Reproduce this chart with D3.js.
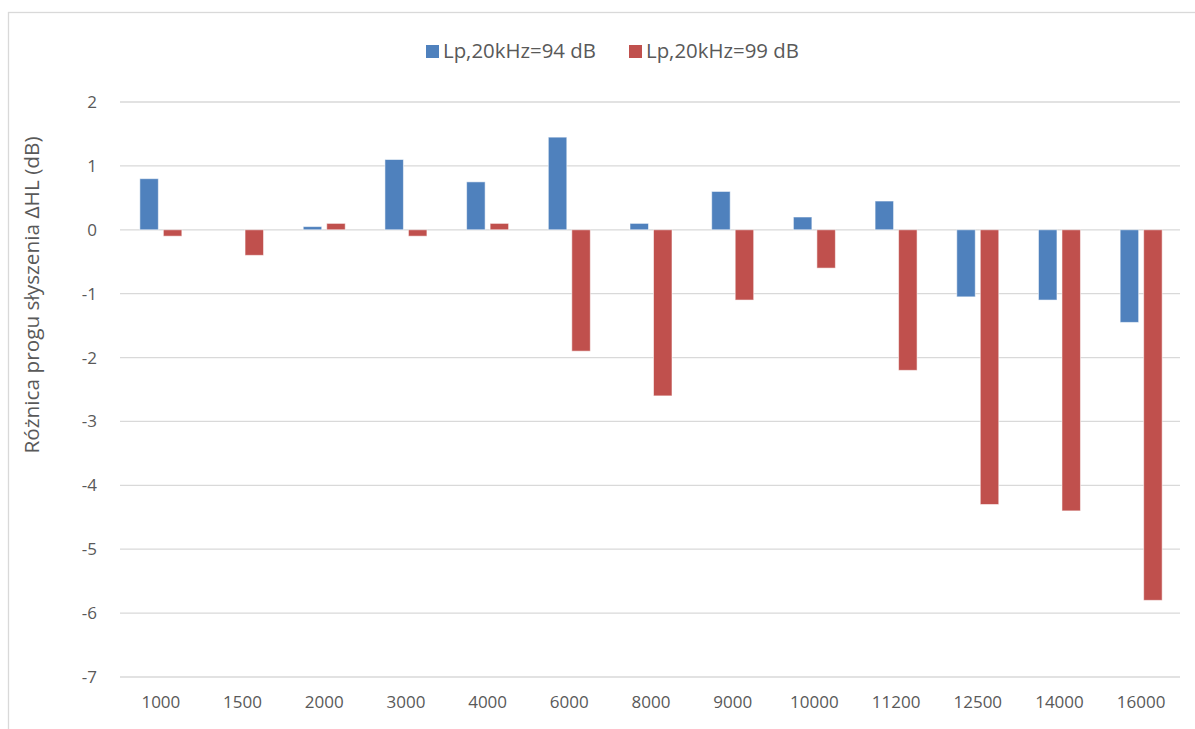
<!DOCTYPE html>
<html>
<head>
<meta charset="utf-8">
<script src="https://cdn.jsdelivr.net/npm/d3@7"></script>
<style>
  html, body { margin: 0; padding: 0; background: #fff; }
  svg { display: block; font-family: "Open Sans", "Noto Sans", sans-serif; }
</style>
</head>
<body>
<svg id="chart" width="1195" height="729"></svg>
<script>
// Frequencies (Hz) along the category axis
const categories = ["1000", "1500", "2000", "3000", "4000", "6000", "8000",
                    "9000", "10000", "11200", "12500", "14000", "16000"];
// Hearing-threshold difference ΔHL (dB) for each exposure level
const seriesNames = ["Lp,20kHz=94 dB", "Lp,20kHz=99 dB"];
const values94 = [0.8, 0, 0.05, 1.1, 0.75, 1.45, 0.1, 0.6, 0.2, 0.45, -1.05, -1.1, -1.45];
const values99 = [-0.1, -0.4, 0.1, -0.1, 0.1, -1.9, -2.6, -1.1, -0.6, -2.2, -4.3, -4.4, -5.8];
const yTicks = [2, 1, 0, -1, -2, -3, -4, -5, -6, -7];
const colors = ["#4F81BD", "#C0504D"];
const yTitle = "Różnica progu słyszenia ΔHL (dB)";

const svg = d3.select("#chart");
const textColor = "#595959";
const gridColor = "#D9D9D9";
const tickFont = 17;
const legendFont = 20.4;
const titleFont = 20.8;

// Outer chart frame
svg.append("rect")
  .attr("x", 8.5).attr("y", 12.5)
  .attr("width", 1300).attr("height", 1000)
  .attr("fill", "none").attr("stroke", gridColor).attr("stroke-width", 1.3);

const plot = { left: 120, right: 1182, top: 102, bottom: 677 };

const x = d3.scaleBand().domain(categories).range([plot.left, plot.right]).padding(0);
const y = d3.scaleLinear().domain([-7, 2]).range([plot.bottom, plot.top]);

// Bars within a cluster
const bw = x.bandwidth();
const clusterInset = bw * 0.243;
const xs = d3.scaleBand().domain(seriesNames)
  .range([clusterInset, bw - clusterInset])
  .paddingInner(0.213).paddingOuter(0);

// Horizontal gridlines
svg.append("g").selectAll("line").data(yTicks).join("line")
  .attr("x1", plot.left).attr("x2", plot.right - 2)
  .attr("y1", d => y(d)).attr("y2", d => y(d))
  .attr("stroke", gridColor).attr("stroke-width", 1.3);

// Y axis labels (plain hyphen for negatives)
const yAxis = d3.axisLeft(y).tickValues(yTicks).tickSize(0).tickPadding(0)
  .tickFormat(d => String(d));
const gy = svg.append("g").attr("transform", `translate(${97},0)`).call(yAxis);
gy.select(".domain").remove();
gy.selectAll("text").attr("fill", textColor).attr("font-size", tickFont)
  .attr("font-family", "'Open Sans', sans-serif");

// X axis labels
const xAxis = d3.axisBottom(x).tickSize(0).tickPadding(0);
const gx = svg.append("g").attr("transform", `translate(0,${696})`).call(xAxis);
gx.select(".domain").remove();
gx.selectAll("text").attr("fill", textColor).attr("font-size", tickFont)
  .attr("font-family", "'Open Sans', sans-serif");

// Bars
const seriesData = [values94, values99];
seriesData.forEach((vals, si) => {
  svg.append("g").selectAll("rect").data(vals.map((v, i) => ({ v, c: categories[i] })))
    .join("rect")
    .attr("x", d => x(d.c) + xs(seriesNames[si]))
    .attr("width", xs.bandwidth())
    .attr("y", d => y(Math.max(0, d.v)))
    .attr("height", d => Math.abs(y(d.v) - y(0)))
    .attr("fill", colors[si])
    .attr("stroke", "#fff").attr("stroke-opacity", 0.55).attr("stroke-width", 1);
});

// Y axis title
svg.append("text")
  .attr("transform", `translate(38.5,295) rotate(-90)`)
  .attr("text-anchor", "middle")
  .attr("fill", textColor).attr("font-size", titleFont)
  .text(yTitle);

// Legend
const legendX = [426, 629];
seriesNames.forEach((name, i) => {
  const g = svg.append("g").attr("transform", `translate(${legendX[i]},45)`);
  g.append("rect").attr("width", 13).attr("height", 13).attr("fill", colors[i]);
  g.append("text").attr("x", 17).attr("y", 13)
    .attr("fill", textColor).attr("font-size", legendFont).text(name);
});
</script>
</body>
</html>
